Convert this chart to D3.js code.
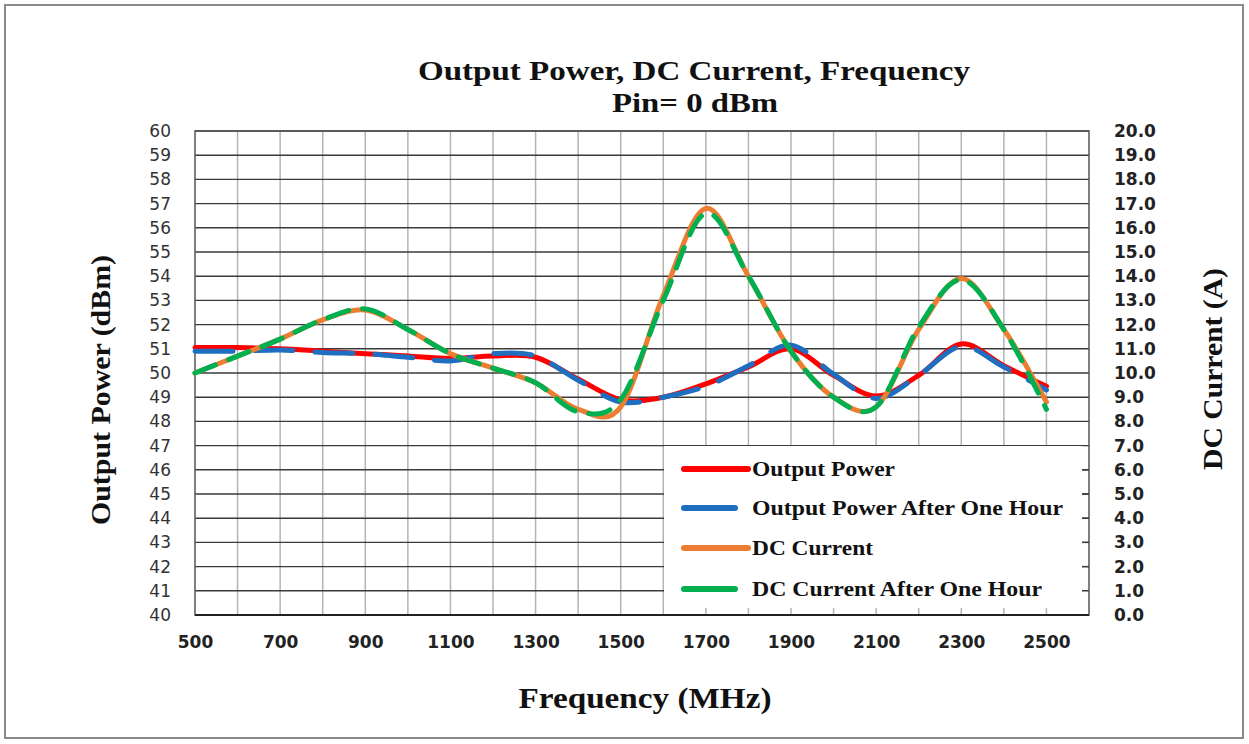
<!DOCTYPE html>
<html>
<head>
  <meta charset="utf-8">
  <title>Output Power, DC Current, Frequency</title>
  <script src="https://cdn.jsdelivr.net/npm/d3@7"></script>
  <style>
    body { margin: 0; background: #fff; }
  </style>
</head>
<body>
<script>
// frequency points (MHz)
var freqs = [500, 600, 700, 800, 900, 1000, 1100, 1200, 1300, 1400, 1500,
             1600, 1700, 1800, 1900, 2000, 2100, 2200, 2300, 2400, 2500];
// output power (dBm)
var outputPower = [51.05, 51.05, 51.0, 50.9, 50.8, 50.7, 50.6, 50.7, 50.65, 49.75, 48.9,
                   49.0, 49.55, 50.25, 51.0, 49.9, 49.05, 49.9, 51.2, 50.3, 49.45];
var outputPowerHour = [50.9, 50.9, 50.95, 50.85, 50.8, 50.65, 50.5, 50.8, 50.7, 49.7, 48.8,
                       49.0, 49.45, 50.3, 51.15, 49.95, 48.95, 49.9, 51.1, 50.25, 49.3];
// DC current (A)
var dcCurrent = [10.0, 10.7, 11.4, 12.2, 12.6, 11.8, 10.8, 10.2, 9.6, 8.5, 8.6,
                 13.2, 16.8, 14.0, 10.9, 9.0, 8.6, 11.8, 13.9, 11.8, 8.8];
var dcCurrentHour = [10.0, 10.7, 11.4, 12.2, 12.65, 11.8, 10.8, 10.2, 9.6, 8.4, 8.9,
                     13.0, 16.6, 14.0, 10.9, 9.0, 8.6, 11.9, 13.85, 11.8, 8.5];
var xTickLabels = [500, 700, 900, 1100, 1300, 1500, 1700, 1900, 2100, 2300, 2500];
var seriesNames = ["Output Power", "Output Power After One Hour", "DC Current", "DC Current After One Hour"];

var breite = 1249, hoehe = 744;
var serif = "'Liberation Serif', 'Times New Roman', serif";
var sans = "'DejaVu Sans', Verdana, sans-serif";

var svg = d3.select("body").append("svg")
    .attr("width", breite)
    .attr("height", hoehe);

// outer frame
svg.append("rect")
   .attr("x", 5).attr("y", 5)
   .attr("width", 1238).attr("height", 733)
   .attr("fill", "#fff")
   .attr("stroke", "#8a8a8a")
   .attr("stroke-width", 2);

// scales
var x = d3.scaleLinear().domain([500, 2600]).range([195, 1089]);
var yP = d3.scaleLinear().domain([40, 60]).range([615, 131]);
var yI = d3.scaleLinear().domain([0, 20]).range([615, 131]);

// vertical grid (light) and horizontal grid (dark)
svg.append("g").selectAll("line")
   .data(d3.range(600, 2600, 100))
   .enter().append("line")
   .attr("x1", function(d) { return x(d); })
   .attr("x2", function(d) { return x(d); })
   .attr("y1", yP(60)).attr("y2", yP(40))
   .attr("stroke", "#b4b4b4")
   .attr("stroke-width", 1.5);

svg.append("g").selectAll("line")
   .data(d3.range(41, 61, 1))
   .enter().append("line")
   .attr("x1", x(500)).attr("x2", x(2600))
   .attr("y1", function(d) { return yP(d); })
   .attr("y2", function(d) { return yP(d); })
   .attr("stroke", "#3a3a3a")
   .attr("stroke-width", 1.4);

// plot border
svg.append("rect")
   .attr("x", x(500)).attr("y", yP(60))
   .attr("width", x(2600) - x(500)).attr("height", yP(40) - yP(60))
   .attr("fill", "none")
   .attr("stroke", "#555")
   .attr("stroke-width", 1.5);
svg.append("line")
   .attr("x1", x(500)).attr("x2", x(2600))
   .attr("y1", yP(40)).attr("y2", yP(40))
   .attr("stroke", "#222").attr("stroke-width", 2);

// axes
var axisLeft = svg.append("g")
   .attr("transform", "translate(" + (x(500) - 21) + ",0)")
   .call(d3.axisLeft(yP).ticks(20).tickSize(0).tickFormat(d3.format("d")));
axisLeft.select(".domain").remove();
axisLeft.selectAll("text")
   .style("font-family", sans).style("font-size", "17px").attr("fill", "#333");

var axisRight = svg.append("g")
   .attr("transform", "translate(" + (x(2600) + 22) + ",0)")
   .call(d3.axisRight(yI).ticks(20).tickSize(0).tickFormat(d3.format(".1f")));
axisRight.select(".domain").remove();
axisRight.selectAll("text")
   .style("font-family", sans).style("font-size", "17px").style("font-weight", "bold").attr("fill", "#222");

var axisBottom = svg.append("g")
   .attr("transform", "translate(0," + (yP(40) + 18) + ")")
   .call(d3.axisBottom(x).tickValues(xTickLabels).tickSize(0).tickFormat(d3.format("d")));
axisBottom.select(".domain").remove();
axisBottom.selectAll("text")
   .style("font-family", sans).style("font-size", "17px").style("font-weight", "bold").attr("fill", "#222");

// curves
function makeLine(values, scale) {
  return d3.line()
    .x(function(d, i) { return x(freqs[i]); })
    .y(function(d) { return scale(d); })
    .curve(d3.curveCatmullRom.alpha(0))(values);
}

var series = [
  { values: outputPower,     scale: yP, color: "#ff0000", dash: null },
  { values: outputPowerHour, scale: yP, color: "#1f6fc0", dash: "38,22" },
  { values: dcCurrent,       scale: yI, color: "#ed7d31", dash: null },
  { values: dcCurrentHour,   scale: yI, color: "#00b050", dash: "22,14" }
];

series.forEach(function(s) {
  svg.append("path")
     .attr("d", makeLine(s.values, s.scale))
     .attr("fill", "none")
     .attr("stroke", s.color)
     .attr("stroke-width", 5)
     .attr("stroke-linecap", "round")
     .attr("stroke-dasharray", s.dash);
});

// legend (white box covering the grid)
var legend = svg.append("g");
legend.append("rect")
   .attr("x", 664).attr("y", 446)
   .attr("width", 418).attr("height", 162)
   .attr("fill", "#fff");

var legendY = [469, 508, 548, 589];
var legendEnd = [748, 735, 748, 735];
var legendWidth = [143, 311, 121, 290];
series.forEach(function(s, i) {
  legend.append("line")
     .attr("x1", 684).attr("x2", legendEnd[i])
     .attr("y1", legendY[i]).attr("y2", legendY[i])
     .attr("stroke", s.color)
     .attr("stroke-width", 6)
     .attr("stroke-linecap", "round");
  legend.append("text")
     .attr("x", 752).attr("y", legendY[i] + 7)
     .attr("textLength", legendWidth[i])
     .attr("lengthAdjust", "spacingAndGlyphs")
     .style("font-family", serif).style("font-size", "21px").style("font-weight", "bold")
     .attr("fill", "#111")
     .text(seriesNames[i]);
});

// small tick marks on the right border inside the legend area
svg.append("g").selectAll("line")
   .data([2, 3, 4, 5, 6])
   .enter().append("line")
   .attr("x1", x(2600) - 7).attr("x2", x(2600))
   .attr("y1", function(d) { return yI(d); })
   .attr("y2", function(d) { return yI(d); })
   .attr("stroke", "#3a3a3a").attr("stroke-width", 1.4);

// titles
function boldText(tx, ty, rot, size, len, label) {
  svg.append("text")
     .attr("transform", "translate(" + tx + "," + ty + ") rotate(" + rot + ")")
     .attr("text-anchor", "middle")
     .attr("textLength", len)
     .attr("lengthAdjust", "spacingAndGlyphs")
     .style("font-family", serif).style("font-size", size + "px").style("font-weight", "bold")
     .attr("fill", "#111")
     .text(label);
}
boldText(694, 80, 0, 28, 552, "Output Power, DC Current, Frequency");
boldText(695, 112, 0, 28, 166, "Pin= 0 dBm");
boldText(110, 390, -90, 28, 270, "Output Power (dBm)");
boldText(1222, 369, -90, 28, 202, "DC Current (A)");
boldText(645, 708, 0, 29, 253, "Frequency (MHz)");
</script>
</body>
</html>
